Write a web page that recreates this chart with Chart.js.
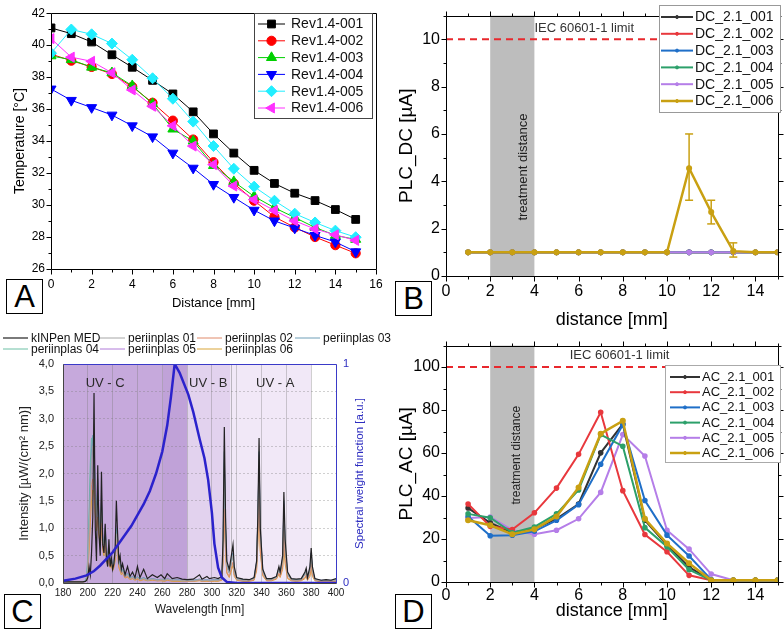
<!DOCTYPE html>
<html>
<head>
<meta charset="utf-8">
<script src="https://cdn.jsdelivr.net/npm/chart.js@4.4.1/dist/chart.umd.min.js"></script>
<style>
  html, body { margin: 0; padding: 0; background: #fff; }
  #wrap { position: relative; width: 784px; height: 631px; overflow: hidden; font-family: 'Liberation Sans', Arial, sans-serif; }
  canvas { position: absolute; }
  .tag { position: absolute; width: 37px; height: 35px; box-sizing: border-box; border: 1px solid #000; background: #fff;
         font-size: 31px; line-height: 33px; text-align: center; color: #000; }
</style>
</head>
<body>
<div id="wrap">
  <canvas id="ca" width="392" height="316" style="left:0;top:0"></canvas>
  <canvas id="cb" width="392" height="340" style="left:392px;top:0"></canvas>
  <canvas id="cc" width="392" height="315" style="left:0;top:316px"></canvas>
  <canvas id="cd" width="392" height="301" style="left:392px;top:330px"></canvas>
  <div class="tag" style="left:6px;top:279px">A</div>
  <div class="tag" style="left:395px;top:281px">B</div>
  <div class="tag" style="left:4px;top:594px">C</div>
  <div class="tag" style="left:395px;top:594px">D</div>
</div>
<script>
// ---------- A: temperature vs distance
const distA  = [0, 1, 2, 3, 4, 5, 6, 7, 8, 9, 10, 11, 12, 13, 14, 15];
const rev001 = [41.08, 40.72, 40.2, 39.4, 38.62, 37.8, 36.95, 35.83, 34.45, 33.25, 32.17, 31.35, 30.74, 30.28, 29.72, 29.1];
const rev002 = [39.44, 39.03, 38.64, 38.2, 37.4, 36.4, 35.28, 34.1, 32.68, 31.35, 30.27, 29.26, 28.6, 28.0, 27.49, 26.98];
const rev003 = [39.33, 39.09, 38.62, 38.27, 37.46, 36.34, 34.75, 34.0, 32.47, 31.46, 30.54, 29.83, 29.22, 28.6, 28.1, 27.85];
const rev004 = [37.26, 36.55, 36.1, 35.63, 34.96, 34.27, 33.25, 32.31, 31.29, 30.48, 29.68, 29.01, 28.56, 28.1, 27.69, 27.08];
const rev005 = [39.5, 40.98, 40.68, 40.1, 39.09, 37.93, 36.65, 35.22, 33.69, 32.27, 31.15, 30.27, 29.46, 28.91, 28.4, 27.99];
const rev006 = [40.41, 39.25, 38.99, 38.27, 37.2, 36.18, 34.96, 33.69, 32.53, 31.19, 30.34, 29.66, 29.01, 28.5, 28.14, 27.79];
const revNames = ['Rev1.4-001', 'Rev1.4-002', 'Rev1.4-003', 'Rev1.4-004', 'Rev1.4-005', 'Rev1.4-006'];

// ---------- B: DC patient leakage current
const distB = [1, 2, 3, 4, 5, 6, 7, 8, 9, 10, 11, 12, 13, 14, 15];
const dc001 = [1, 1, 1, 1, 1, 1, 1, 1, 1, 1, 1, 1, 1, 1, 1];
const dc002 = [1, 1, 1, 1, 1, 1, 1, 1, 1, 1, 1, 1, 1, 1, 1];
const dc003 = [1, 1, 1, 1, 1, 1, 1, 1, 1, 1, 1, 1, 1, 1, 1];
const dc004 = [1, 1, 1, 1, 1, 1, 1, 1, 1, 1, 1, 1, 1, 1, 1];
const dc005 = [1, 1, 1, 1, 1, 1, 1, 1, 1, 1, 1, 1, 1, 1, 1];
const dc006 = [1, 1, 1, 1, 1, 1, 1, 1, 1, 1, 4.55, 2.7, 1.05, 1, 1];
const dcErrX  = [11, 12, 13];
const dcErrLo = [3.2, 2.2, 0.8];
const dcErrHi = [6.0, 3.2, 1.4];
const dcNames = ['DC_2.1_001', 'DC_2.1_002', 'DC_2.1_003', 'DC_2.1_004', 'DC_2.1_005', 'DC_2.1_006'];
const dcLimit = 10;

// ---------- D: AC patient leakage current
const distD = [1, 2, 3, 4, 5, 6, 7, 8, 9, 10, 11, 12, 13, 14, 15];
const ac001 = [34.4, 27.5, 22.9, 24.8, 29.4, 36.3, 60.1, 73.5, 28.7, 17.2, 6.9, 0.8, 0.8, 0.8, 0.8];
const ac002 = [36.3, 25.9, 24.4, 32.2, 43.7, 59.4, 79.0, 42.5, 22.1, 14.1, 3.1, 0.8, 0.8, 0.8, 0.8];
const ac003 = [30.5, 21.5, 21.8, 23.6, 28.7, 36.0, 54.8, 73.2, 37.9, 21.8, 12.1, 1.1, 0.8, 0.8, 0.8];
const ac004 = [31.7, 29.9, 22.9, 25.6, 31.7, 42.8, 68.6, 63.2, 25.3, 16.4, 5.7, 0.8, 0.8, 0.8, 0.8];
const ac005 = [29.8, 30.2, 24.1, 22.2, 24.1, 29.4, 41.7, 68.6, 58.6, 24.1, 15.3, 3.7, 0.8, 0.8, 0.8];
const ac006 = [28.7, 26.4, 22.2, 24.5, 30.5, 44.0, 69.0, 75.0, 29.4, 17.9, 8.7, 0.8, 0.8, 0.8, 0.8];
const acNames = ['AC_2.1_001', 'AC_2.1_002', 'AC_2.1_003', 'AC_2.1_004', 'AC_2.1_005', 'AC_2.1_006'];
const acLimit = 100;

const limitRange = [0, 15];
const treatBand = [2, 4];

// ---------- C: UV spectrum
const wl = [
  180, 190, 196, 198, 199, 200, 201, 202, 203, 204,
  205, 206, 207, 208, 209, 210, 211, 212, 213, 214,
  215, 216, 217, 218, 219, 220, 221, 222, 223, 224,
  225, 226, 227, 228, 230, 232, 234, 236, 238, 240,
  242, 245, 248, 252, 256, 259, 262, 264, 268, 272,
  276, 280, 285, 290, 292, 296, 298, 302, 305, 308,
  309, 310, 311, 312, 314, 316, 317, 318, 320, 325,
  330, 334, 336, 337, 338, 339, 341, 344, 348, 352,
  354, 355, 357, 358, 359, 361, 364, 368, 372, 375,
  376, 377, 379, 380, 381, 383, 388, 392, 396, 400];
const kinpen = [
  0.02, 0.02, 0.02, 0.03, 0.05, 0.10, 0.30, 0.15, 0.55, 1.20,
  3.47, 1.00, 0.40, 2.15, 0.90, 0.50, 2.03, 0.70, 0.55, 1.08,
  0.45, 0.30, 0.80, 0.30, 0.45, 0.25, 0.35, 0.60, 1.50, 0.90,
  0.40, 0.50, 0.25, 0.35, 0.15, 0.30, 0.12, 0.20, 0.10, 0.30,
  0.10, 0.25, 0.08, 0.15, 0.10, 0.15, 0.08, 0.17, 0.08, 0.10,
  0.07, 0.06, 0.07, 0.15, 0.07, 0.12, 0.08, 0.10, 0.08, 0.12,
  0.80, 2.85, 1.20, 0.40, 0.25, 0.55, 0.70, 0.30, 0.10, 0.07,
  0.06, 0.10, 0.40, 1.20, 2.65, 1.00, 0.25, 0.08, 0.08, 0.12,
  0.30, 0.20, 0.50, 1.66, 0.80, 0.20, 0.08, 0.07, 0.08, 0.20,
  0.27, 0.10, 0.30, 0.64, 0.30, 0.08, 0.05, 0.06, 0.05, 0.08];
const peri01 = [
  0.02, 0.02, 0.02, 0.03, 0.08, 0.30, 0.90, 1.60, 2.20, 2.50,
  2.20, 1.60, 1.20, 1.50, 1.10, 0.90, 1.40, 0.80, 0.70, 0.90,
  0.60, 0.40, 0.55, 0.35, 0.40, 0.30, 0.35, 0.50, 0.90, 0.70,
  0.35, 0.30, 0.20, 0.22, 0.12, 0.15, 0.08, 0.10, 0.07, 0.10,
  0.06, 0.08, 0.05, 0.07, 0.05, 0.06, 0.05, 0.07, 0.05, 0.05,
  0.04, 0.04, 0.04, 0.06, 0.04, 0.05, 0.04, 0.05, 0.05, 0.07,
  0.60, 2.10, 0.90, 0.30, 0.18, 0.40, 0.50, 0.20, 0.07, 0.05,
  0.05, 0.08, 0.35, 1.10, 2.30, 0.90, 0.20, 0.06, 0.06, 0.10,
  0.25, 0.18, 0.40, 1.40, 0.65, 0.15, 0.06, 0.05, 0.06, 0.15,
  0.20, 0.08, 0.22, 0.50, 0.22, 0.06, 0.04, 0.04, 0.04, 0.05];
const peri02 = [
  0.02, 0.02, 0.02, 0.03, 0.06, 0.25, 0.70, 1.30, 1.80, 1.90,
  1.70, 1.30, 1.00, 1.20, 0.90, 0.70, 1.10, 0.65, 0.55, 0.75,
  0.50, 0.35, 0.45, 0.30, 0.35, 0.25, 0.30, 0.45, 0.80, 0.60,
  0.30, 0.25, 0.18, 0.20, 0.10, 0.12, 0.07, 0.09, 0.06, 0.08,
  0.05, 0.07, 0.05, 0.06, 0.04, 0.05, 0.04, 0.06, 0.04, 0.04,
  0.04, 0.03, 0.03, 0.05, 0.03, 0.04, 0.03, 0.04, 0.04, 0.06,
  0.40, 1.35, 0.60, 0.20, 0.12, 0.30, 0.38, 0.15, 0.06, 0.04,
  0.04, 0.06, 0.25, 0.80, 1.55, 0.60, 0.15, 0.05, 0.05, 0.08,
  0.18, 0.12, 0.30, 0.95, 0.45, 0.10, 0.05, 0.04, 0.05, 0.10,
  0.15, 0.06, 0.15, 0.35, 0.15, 0.05, 0.03, 0.03, 0.03, 0.04];
const peri03 = [
  0.02, 0.02, 0.02, 0.04, 0.10, 0.40, 1.10, 1.90, 2.45, 2.70,
  2.40, 1.80, 1.30, 1.70, 1.20, 1.00, 1.50, 0.85, 0.75, 1.00,
  0.65, 0.45, 0.60, 0.40, 0.45, 0.30, 0.40, 0.55, 1.00, 0.75,
  0.40, 0.35, 0.22, 0.25, 0.13, 0.18, 0.09, 0.12, 0.08, 0.12,
  0.07, 0.10, 0.06, 0.08, 0.06, 0.07, 0.05, 0.08, 0.05, 0.06,
  0.05, 0.05, 0.05, 0.07, 0.05, 0.06, 0.05, 0.06, 0.06, 0.08,
  0.65, 2.40, 1.00, 0.35, 0.20, 0.45, 0.55, 0.22, 0.08, 0.06,
  0.05, 0.09, 0.38, 1.15, 2.40, 0.95, 0.22, 0.07, 0.07, 0.11,
  0.28, 0.19, 0.45, 1.50, 0.70, 0.17, 0.07, 0.06, 0.07, 0.17,
  0.23, 0.09, 0.25, 0.55, 0.25, 0.07, 0.05, 0.05, 0.05, 0.06];
const peri04 = [
  0.02, 0.02, 0.02, 0.04, 0.12, 0.50, 1.30, 2.20, 2.65, 2.55,
  2.30, 1.70, 1.25, 1.60, 1.15, 0.95, 1.45, 0.80, 0.70, 0.95,
  0.60, 0.42, 0.55, 0.38, 0.42, 0.28, 0.38, 0.52, 0.95, 0.70,
  0.38, 0.32, 0.20, 0.24, 0.12, 0.16, 0.08, 0.11, 0.07, 0.11,
  0.06, 0.09, 0.05, 0.07, 0.05, 0.06, 0.05, 0.07, 0.05, 0.05,
  0.04, 0.04, 0.04, 0.06, 0.04, 0.05, 0.04, 0.05, 0.05, 0.07,
  0.55, 2.20, 0.95, 0.30, 0.18, 0.42, 0.52, 0.20, 0.07, 0.05,
  0.05, 0.08, 0.36, 1.10, 2.20, 0.90, 0.20, 0.06, 0.06, 0.10,
  0.26, 0.18, 0.42, 1.35, 0.62, 0.15, 0.06, 0.05, 0.06, 0.15,
  0.21, 0.08, 0.22, 0.50, 0.22, 0.06, 0.04, 0.04, 0.04, 0.05];
const peri05 = [
  0.02, 0.02, 0.02, 0.03, 0.08, 0.35, 0.95, 1.70, 2.30, 2.60,
  2.55, 2.00, 1.40, 1.90, 1.30, 1.05, 1.60, 0.90, 0.80, 1.05,
  0.70, 0.48, 0.65, 0.42, 0.48, 0.32, 0.42, 0.60, 1.05, 0.80,
  0.42, 0.36, 0.23, 0.26, 0.14, 0.19, 0.09, 0.12, 0.08, 0.12,
  0.07, 0.10, 0.06, 0.08, 0.06, 0.07, 0.05, 0.08, 0.05, 0.06,
  0.05, 0.05, 0.05, 0.07, 0.05, 0.06, 0.05, 0.06, 0.06, 0.08,
  0.60, 2.25, 0.95, 0.32, 0.20, 0.45, 0.55, 0.22, 0.08, 0.06,
  0.05, 0.09, 0.38, 1.15, 2.35, 0.95, 0.22, 0.07, 0.07, 0.11,
  0.28, 0.19, 0.45, 1.45, 0.68, 0.16, 0.07, 0.06, 0.07, 0.17,
  0.23, 0.09, 0.25, 0.55, 0.25, 0.07, 0.05, 0.05, 0.05, 0.06];
const peri06 = [
  0.02, 0.02, 0.02, 0.03, 0.05, 0.20, 0.60, 1.10, 1.50, 1.70,
  1.65, 1.25, 0.95, 1.20, 0.85, 0.70, 1.05, 0.60, 0.50, 0.70,
  0.48, 0.32, 0.42, 0.28, 0.32, 0.22, 0.28, 0.40, 0.75, 0.55,
  0.28, 0.22, 0.15, 0.18, 0.09, 0.11, 0.06, 0.08, 0.05, 0.07,
  0.04, 0.06, 0.04, 0.05, 0.04, 0.04, 0.03, 0.05, 0.03, 0.03,
  0.03, 0.03, 0.03, 0.04, 0.03, 0.03, 0.03, 0.03, 0.03, 0.05,
  0.38, 1.30, 0.55, 0.18, 0.10, 0.25, 0.32, 0.12, 0.05, 0.03,
  0.03, 0.05, 0.22, 0.70, 1.45, 0.55, 0.13, 0.04, 0.04, 0.07,
  0.16, 0.10, 0.25, 0.62, 0.35, 0.08, 0.04, 0.03, 0.04, 0.08,
  0.12, 0.05, 0.12, 0.28, 0.12, 0.04, 0.02, 0.02, 0.02, 0.03];
const specNames = ['kINPen MED', 'periinplas 01', 'periinplas 02', 'periinplas 03', 'periinplas 04', 'periinplas 05', 'periinplas 06'];
const wlWeight = [180, 190, 199, 205, 210, 215, 220, 225, 230, 235, 240, 245, 250, 255, 260, 264, 267, 270, 274, 281, 285, 290, 294, 297, 300, 302, 305, 308, 312, 320, 400];
const weight   = [0.01, 0.02, 0.035, 0.055, 0.08, 0.11, 0.14, 0.18, 0.22, 0.26, 0.31, 0.36, 0.42, 0.5, 0.6, 0.72, 0.85, 1.0, 0.96, 0.86, 0.78, 0.66, 0.57, 0.47, 0.32, 0.18, 0.07, 0.025, 0.005, 0, 0];
const uvEdges = [180, 260, 280, 315, 380, 400];

// ---------- common
Chart.defaults.font.family = "'Liberation Sans', Arial, sans-serif";
Chart.defaults.color = '#000';
Chart.defaults.animation = false;
Chart.defaults.events = [];
Chart.defaults.plugins.legend.display = false;
Chart.defaults.plugins.tooltip.enabled = false;

const pts = (xs, ys) => xs.map((x, i) => ({ x, y: ys[i] }));
const fixAxis = size => s => { if (s.isHorizontal()) s.height = size; else s.width = size; };

function seg(ctx, x1, y1, x2, y2, color) {
  ctx.strokeStyle = color;
  ctx.beginPath(); ctx.moveTo(x1, y1); ctx.lineTo(x2, y2); ctx.stroke();
}

// box round the plot, with outward major/minor ticks
const framePlugin = {
  id: 'frame',
  afterDatasetsDraw(chart, args, o) {
    const { ctx, chartArea: a } = chart;
    const c = Object.assign({ top: '#000', right: '#000', bottom: '#000', left: '#000' }, o.colors || {});
    const L = Math.round(a.left) + 0.5, R = Math.round(a.right) + 0.5;
    const T = Math.round(a.top) + 0.5, B = Math.round(a.bottom) + 0.5;
    ctx.save();
    ctx.lineWidth = 1;
    seg(ctx, L, T, R, T, c.top); seg(ctx, R, T, R, B, c.right);
    seg(ctx, L, B, R, B, c.bottom); seg(ctx, L, T, L, B, c.left);
    if (o.ticks) {
      const marks = scale => {
        const vals = scale.ticks.map(t => t.value);
        const step = vals[1] - vals[0];
        const out = vals.map(v => [v, 5]);
        vals.forEach(v => { if (v + step / 2 <= scale.max) out.push([v + step / 2, 3]); });
        if (vals[0] - step / 2 >= scale.min) out.push([vals[0] - step / 2, 3]);
        return out;
      };
      marks(chart.scales.x).forEach(([v, len]) => {
        const p = Math.round(chart.scales.x.getPixelForValue(v)) + 0.5;
        seg(ctx, p, B, p, B + len, c.bottom);
        if (o.mirror) seg(ctx, p, T, p, T - len, c.top);
      });
      marks(chart.scales.y).forEach(([v, len]) => {
        const p = Math.round(chart.scales.y.getPixelForValue(v)) + 0.5;
        seg(ctx, L - len, p, L, p, c.left);
        if (o.mirror) seg(ctx, R, p, R + len, p, c.right);
      });
    }
    ctx.restore();
  }
};

// legend drawn at a fixed place inside / above the plot
const boxLegendPlugin = {
  id: 'boxLegend',
  afterDraw(chart, args, o) {
    const ctx = chart.ctx;
    ctx.save();
    if (o.box) {
      ctx.fillStyle = '#fff';
      ctx.fillRect(o.box.x, o.box.y, o.box.w, o.box.h);
      ctx.strokeStyle = o.box.stroke; ctx.lineWidth = 1;
      ctx.strokeRect(o.box.x + 0.5, o.box.y + 0.5, o.box.w, o.box.h);
    }
    ctx.font = o.fontSize + "px 'Liberation Sans', Arial, sans-serif";
    ctx.textBaseline = 'middle';
    ctx.textAlign = 'left';
    let k = 0;
    chart.data.datasets.forEach(ds => {
      if (ds.hideInLegend) return;
      const per = o.perRow || 1;
      const col = k % per, row = Math.floor(k / per);
      const x = o.colX ? o.colX[col] : o.x;
      const y = o.y + row * o.dy;
      ctx.setLineDash([]);
      ctx.lineWidth = ds.borderWidth || 1;
      seg(ctx, x, y, x + o.lineLen, y, ds.borderColor);
      if (o.markerR) {
        ctx.fillStyle = ds.pointBackgroundColor || ds.borderColor;
        ctx.strokeStyle = ds.borderColor;
        ctx.lineWidth = 1;
        Chart.helpers.drawPoint(ctx, {
          pointStyle: ds.pointStyle || 'circle', rotation: ds.pointRotation || 0,
          radius: o.markerR === 'ds' ? ds.pointRadius : o.markerR, borderWidth: 1
        }, x + o.lineLen / 2, y);
      }
      ctx.fillStyle = '#111';
      ctx.fillText(ds.label, x + o.lineLen + o.gap, y + 0.5);
      k++;
    });
    ctx.restore();
  }
};

// treatment band + annotation texts for B and D
const notesPlugin = {
  id: 'notes',
  beforeDatasetsDraw(chart, args, o) {
    const { ctx, chartArea: a, scales: { x, y } } = chart;
    ctx.save();
    const x1 = x.getPixelForValue(o.band[0]), x2 = x.getPixelForValue(o.band[1]);
    ctx.fillStyle = o.bandColor;
    ctx.fillRect(x1, a.top, x2 - x1, a.bottom - a.top);
    ctx.fillStyle = '#222';
    ctx.font = o.bandText.size + "px 'Liberation Sans', Arial, sans-serif";
    ctx.textAlign = 'center'; ctx.textBaseline = 'middle';
    ctx.translate(x.getPixelForValue(o.bandText.x), y.getPixelForValue(o.bandText.y));
    ctx.rotate(-Math.PI / 2);
    ctx.fillText(o.bandText.text, 0, 0);
    ctx.restore();
    ctx.save();
    ctx.fillStyle = '#333';
    ctx.font = o.limitText.size + "px 'Liberation Sans', Arial, sans-serif";
    ctx.textAlign = 'left'; ctx.textBaseline = 'middle';
    ctx.fillText(o.limitText.text, x.getPixelForValue(o.limitText.x), y.getPixelForValue(o.limitText.y));
    ctx.restore();
  }
};

// vertical error bars for one series
const errPlugin = {
  id: 'err',
  afterDatasetsDraw(chart, args, o) {
    const { ctx, scales: { x, y } } = chart;
    ctx.save();
    ctx.lineWidth = 1.5;
    o.xs.forEach((v, i) => {
      const px = x.getPixelForValue(v);
      const lo = y.getPixelForValue(o.lo[i]), hi = y.getPixelForValue(o.hi[i]);
      seg(ctx, px, lo, px, hi, o.color);
      seg(ctx, px - 4, lo, px + 4, lo, o.color);
      seg(ctx, px - 4, hi, px + 4, hi, o.color);
    });
    ctx.restore();
  }
};

// UV band shading for C
const uvPlugin = {
  id: 'uv',
  beforeDraw(chart, args, o) {
    const { ctx, chartArea: a, scales: { x } } = chart;
    ctx.save();
    for (let i = 0; i < o.edges.length - 1; i++) {
      const x1 = x.getPixelForValue(o.edges[i]), x2 = x.getPixelForValue(o.edges[i + 1]);
      ctx.fillStyle = o.colors[i];
      ctx.fillRect(x1, a.top, x2 - x1, a.bottom - a.top);
    }
    ctx.restore();
  },
  beforeDatasetsDraw(chart, args, o) {
    const { ctx, chartArea: a, scales: { x, y } } = chart;
    ctx.save();
    ctx.lineWidth = 1;
    o.sep.forEach(v => {
      const p = Math.round(x.getPixelForValue(v)) + 0.5;
      seg(ctx, p, a.top, p, a.bottom, 'rgba(120,120,120,0.45)');
    });
    ctx.fillStyle = '#2a2a2a';
    ctx.font = "13px 'Liberation Sans', Arial, sans-serif";
    ctx.textAlign = 'center'; ctx.textBaseline = 'middle';
    o.labels.forEach(l => ctx.fillText(l.text, x.getPixelForValue(l.x), y.getPixelForValue(l.y)));
    ctx.restore();
  },
  afterDraw(chart, args, o) {
    // right axis title reads bottom-to-top like the left one
    const { ctx, chartArea: a } = chart;
    const t = o.rightTitle;
    ctx.save();
    ctx.fillStyle = t.color;
    ctx.font = t.size + "px 'Liberation Sans', Arial, sans-serif";
    ctx.textAlign = 'center'; ctx.textBaseline = 'middle';
    ctx.translate(t.x, (a.top + a.bottom) / 2);
    ctx.rotate(-Math.PI / 2);
    ctx.fillText(t.text, 0, 0);
    ctx.restore();
  }
};

// ---------- A
const styleA = [
  { color: '#000000', shape: 'rect',     rot: 0,   r: 5.5 },
  { color: '#ff0000', shape: 'circle',   rot: 0,   r: 4.6 },
  { color: '#00d000', shape: 'triangle', rot: 0,   r: 5.8 },
  { color: '#0000ff', shape: 'triangle', rot: 180, r: 5.8 },
  { color: '#22eeff', shape: 'rectRot',  rot: 0,   r: 5.5 },
  { color: '#ff30ff', shape: 'triangle', rot: -90, r: 5.8 },
];
const revSeries = [rev001, rev002, rev003, rev004, rev005, rev006];

new Chart(document.getElementById('ca'), {
  type: 'line',
  data: {
    datasets: revSeries.map((ys, i) => ({
      label: revNames[i],
      data: pts(distA, ys),
      borderColor: styleA[i].color,
      backgroundColor: styleA[i].color,
      pointBackgroundColor: styleA[i].color,
      borderWidth: 1,
      pointStyle: styleA[i].shape,
      pointRotation: styleA[i].rot,
      pointRadius: styleA[i].r,
      pointBorderWidth: 1,
      order: 5 - i
    }))
  },
  options: {
    responsive: false,
    devicePixelRatio: 1,
    layout: { padding: { left: 0, top: 7, right: 16, bottom: 0 } },
    scales: {
      x: {
        type: 'linear', min: 0, max: 16, afterFit: fixAxis(47),
        grid: { display: false, drawTicks: false }, border: { display: false },
        ticks: { stepSize: 2, padding: 8, font: { size: 12 }, maxRotation: 0 },
        title: { display: true, text: 'Distance [mm]', font: { size: 13 }, padding: { top: 0, bottom: 5 } }
      },
      y: {
        min: 26, max: 42, afterFit: fixAxis(51),
        grid: { display: false, drawTicks: false }, border: { display: false },
        ticks: { stepSize: 2, padding: 6, font: { size: 12 } },
        title: { display: true, text: 'Temperature [°C]', font: { size: 14 }, padding: { top: 12, bottom: 0 } }
      }
    },
    plugins: {
      frame: { ticks: true, mirror: false },
      boxLegend: { box: { x: 254, y: 13, w: 118, h: 105, stroke: '#444' },
                   x: 258, y: 24, dy: 16.8, lineLen: 27, gap: 6, fontSize: 14, markerR: 'ds' }
    }
  },
  plugins: [framePlugin, boxLegendPlugin]
});

// ---------- B and D share their layout
const seriesColors = ['#333333', '#e8383d', '#1f6fc8', '#2ca06a', '#b57ee8', '#c9a012'];

function leakChart(id, xs, series, names, limit, yMax, yStep, yTitle, opts) {
  const datasets = series.map((ys, i) => ({
    label: names[i],
    data: pts(xs, ys),
    borderColor: seriesColors[i],
    backgroundColor: seriesColors[i],
    borderWidth: i === 5 ? 2.5 : 2,
    pointRadius: 1.8,
    pointStyle: 'circle',
    order: opts.order[i]
  }));
  datasets.push({
    label: 'limit', hideInLegend: true,
    data: limitRange.map(x => ({ x, y: limit })),
    borderColor: '#e8282d', borderWidth: 2, borderDash: [7, 5], pointRadius: 0, order: 20
  });
  return new Chart(document.getElementById(id), {
    type: 'line',
    data: { datasets },
    options: {
      responsive: false,
      devicePixelRatio: 1,
      layout: { padding: { left: 0, top: opts.top, right: 4, bottom: 0 } },
      scales: {
        x: {
          type: 'linear', min: 0, max: 15, afterFit: fixAxis(opts.xh),
          grid: { display: false, drawTicks: false }, border: { display: false },
          ticks: { stepSize: 2, includeBounds: false, padding: opts.xpad, font: { size: 16 }, maxRotation: 0 },
          title: { display: true, text: 'distance [mm]', font: { size: 18 }, padding: { top: 0, bottom: opts.titlePad } }
        },
        y: {
          min: 0, max: yMax, afterFit: fixAxis(54),
          grid: { display: false, drawTicks: false }, border: { display: false },
          ticks: { stepSize: yStep, includeBounds: false, padding: 6, font: { size: 16 } },
          title: { display: true, text: yTitle, font: { size: 19 }, padding: { top: 3.6, bottom: 0 } }
        }
      },
      plugins: Object.assign({
        frame: { ticks: true, mirror: true },
        notes: opts.notes,
        boxLegend: opts.legend
      }, opts.extra || {})
    },
    plugins: [notesPlugin, framePlugin, errPlugin, boxLegendPlugin]
  });
}

leakChart('cb', distB, [dc001, dc002, dc003, dc004, dc005, dc006], dcNames, dcLimit, 11, 2, 'PLC_DC [µA]', {
  top: 5, xh: 64, xpad: 6, titlePad: 9,
  order: [5, 4, 3, 2, 1, 0],
  notes: { band: treatBand, bandColor: '#bdbdbd',
           bandText: { x: 3.5, y: 4.6, text: 'treatment distance', size: 13 },
           limitText: { x: 4.0, y: 10.45, text: 'IEC 60601-1 limit', size: 13 } },
  legend: { box: { x: 267, y: 5, w: 121, h: 107, stroke: '#999' },
            x: 269, y: 17, dy: 16.8, lineLen: 32, gap: 2, fontSize: 14, markerR: 1.5 },
  extra: { err: { xs: dcErrX, lo: dcErrLo, hi: dcErrHi, color: '#c9a012' } }
});

leakChart('cd', distD, [ac001, ac002, ac003, ac004, ac005, ac006], acNames, acLimit, 110, 20, 'PLC_AC [µA]', {
  top: 10, xh: 49, xpad: 4, titlePad: 9,
  order: [4, 3, 2, 1, 5, 0],
  notes: { band: treatBand, bandColor: '#bdbdbd',
           bandText: { x: 3.2, y: 59, text: 'treatment distance', size: 12 },
           limitText: { x: 5.6, y: 105.6, text: 'IEC 60601-1 limit', size: 13 } },
  legend: { box: { x: 273, y: 35, w: 115, h: 97, stroke: '#aaa' },
            x: 278, y: 47, dy: 15.2, lineLen: 30, gap: 2, fontSize: 13, markerR: 1.5 },
  extra: { err: { xs: [], lo: [], hi: [], color: '#000' } }
});

// ---------- C
const specSeries = [kinpen, peri01, peri02, peri03, peri04, peri05, peri06];
const specColors = ['#222222', '#a6a6a6', '#e08a6a', '#6f9fb8', '#6cc0a5', '#b07ad8', '#d9a538'];
const specDatasets = specSeries.map((ys, i) => ({
  label: specNames[i],
  data: pts(wl, ys),
  borderColor: specColors[i],
  borderWidth: i === 0 ? 1.2 : 1,
  pointRadius: 0,
  yAxisID: 'y',
  order: i + 1
}));
specDatasets.push({
  label: 'Spectral weight function', hideInLegend: true,
  data: pts(wlWeight, weight),
  borderColor: '#2b22cc', borderWidth: 2.5, pointRadius: 0, yAxisID: 'y2', order: 0
});

new Chart(document.getElementById('cc'), {
  type: 'line',
  data: { datasets: specDatasets },
  options: {
    responsive: false,
    devicePixelRatio: 1,
    layout: { padding: { left: 0, top: 48, right: 0, bottom: 0 } },
    scales: {
      x: {
        type: 'linear', min: 180, max: 400, afterFit: fixAxis(48),
        grid: { color: 'rgba(120,120,120,0.35)', drawTicks: false }, border: { display: false },
        ticks: { stepSize: 20, padding: 4, font: { size: 10 }, color: '#222', maxRotation: 0 },
        title: { display: true, text: 'Wavelength [nm]', font: { size: 12 }, color: '#222', padding: { top: 0, bottom: 14 } }
      },
      y: {
        min: 0, max: 4, afterFit: fixAxis(63),
        grid: { color: 'rgba(120,120,120,0.35)', drawTicks: false }, border: { display: false, dash: [2, 2] },
        ticks: { stepSize: 0.5, padding: 9, font: { size: 11 }, color: '#222',
                 callback: v => v.toFixed(1).replace('.', ',') },
        title: { display: true, text: 'Intensity [µW/(cm² nm)]', font: { size: 13 }, color: '#222', padding: { top: 17, bottom: 0 } }
      },
      y2: {
        position: 'right', min: 0, max: 1, afterFit: fixAxis(56),
        grid: { display: false, drawTicks: false }, border: { display: false },
        ticks: { stepSize: 1, padding: 7, font: { size: 11 }, color: '#2d2dc0' },
        title: { display: false }
      }
    },
    plugins: {
      uv: { edges: uvEdges, colors: ['#c6a9dc', '#c0a2d8', '#e2d2ee', '#f1e8f7', '#ffffff'],
            sep: [315],
            labels: [{ x: 214, y: 3.65, text: 'UV - C' }, { x: 297, y: 3.65, text: 'UV - B' }, { x: 351, y: 3.65, text: 'UV - A' }],
            rightTitle: { text: 'Spectral weight function [a.u.]', x: 360, size: 11.5, color: '#2d2dc0' } },
      frame: { ticks: false, colors: { top: '#3a3ac8', right: '#3a3ac8', left: '#444', bottom: '#444' } },
      boxLegend: { colX: [3, 100, 197, 295], perRow: 4, y: 22, dy: 11, lineLen: 25, gap: 3, fontSize: 12 }
    }
  },
  plugins: [uvPlugin, framePlugin, boxLegendPlugin]
});
</script>
</body>
</html>
